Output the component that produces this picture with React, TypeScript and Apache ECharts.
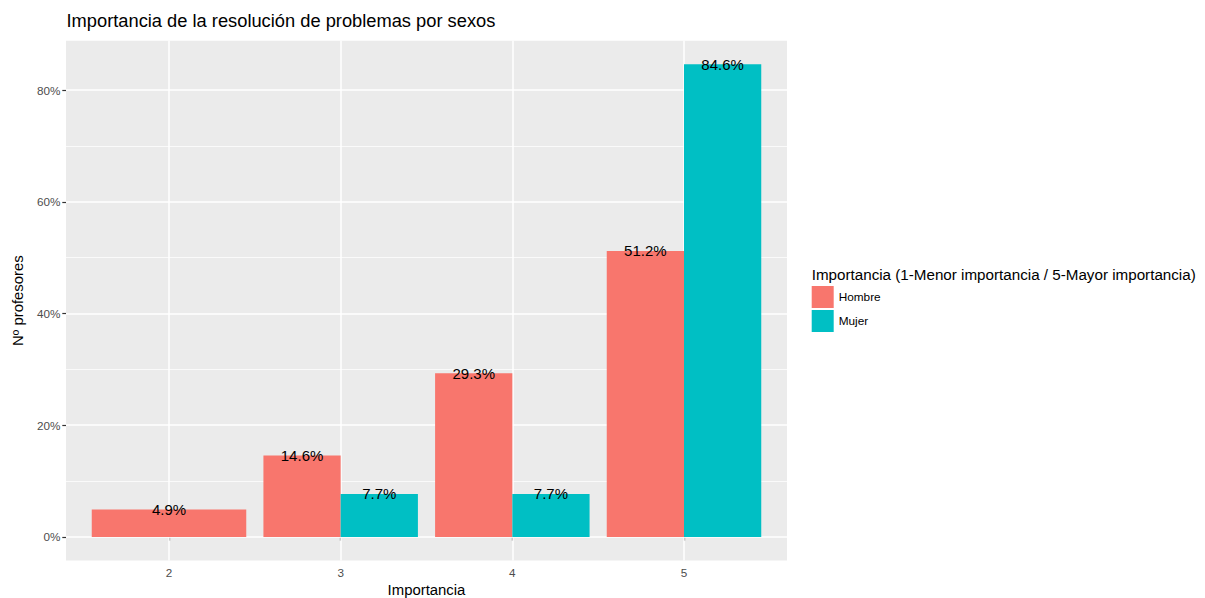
import React, { useEffect, useRef } from "react";
import * as echarts from "echarts";

const categories = [2, 3, 4, 5];
const hombre: (number | null)[] = [4.9, 14.6, 29.3, 51.2];
const mujer: (number | null)[] = [null, 7.7, 7.7, 84.6];
const seriesNames = ["Hombre", "Mujer"];
const seriesColors = ["#F8766D", "#00BFC4"];
const yTicks = [0, 20, 40, 60, 80];
const yMinor = [10, 30, 50, 70];

const FONT = "'Liberation Sans', Arial, Helvetica, sans-serif";

function buildData(groupIndex: number) {
  const groups = [hombre, mujer];
  const out: number[][] = [];
  categories.forEach((c, i) => {
    const present = groups.map((g) => g[i]).map((v, gi) => (v == null ? -1 : gi)).filter((gi) => gi >= 0);
    const v = groups[groupIndex][i];
    if (v == null) return;
    out.push([c, v, present.indexOf(groupIndex), present.length]);
  });
  return out;
}

export default function App() {
  const ref = useRef<HTMLDivElement>(null);
  useEffect(() => {
    document.body.style.margin = "0";
    if (!ref.current) return;
    const chart = echarts.init(ref.current, undefined, { renderer: "svg" });
    const all = [...hombre, ...mujer].filter((v) => v != null) as number[];
    const dataMax = Math.max(...all);
    const yMin = -0.05 * dataMax;
    const yMax = dataMax * 1.05;
    const xMin = categories[0] - 0.6;
    const xMax = categories[categories.length - 1] + 0.6;

    const renderItem = (params: any, api: any) => {
      const x = api.value(0);
      const v = api.value(1);
      const slot = api.value(2);
      const n = api.value(3);
      const unit = api.size([1, 0])[0];
      const total = 0.9 * unit;
      const w = total / n;
      const cx = api.coord([x, 0])[0];
      const left = cx - total / 2 + slot * w;
      const top = api.coord([x, v])[1];
      const base = api.coord([x, 0])[1];
      return {
        type: "group",
        children: [
          {
            type: "rect",
            shape: { x: left, y: top, width: w, height: base - top },
            style: { fill: api.visual("color") },
          },
          {
            type: "text",
            x: left + w / 2,
            y: top,
            z2: 10,
            style: {
              text: v.toFixed(1) + "%",
              align: "center",
              verticalAlign: "middle",
              fontSize: 15,
              fontFamily: FONT,
              fill: "#000000",
            },
          },
        ],
      };
    };

    const gridLines = [
      ...yTicks.map((v) => ({ yAxis: v, lineStyle: { width: 1.5, color: "#FFFFFF", type: "solid" } })),
      ...yMinor.map((v) => ({ yAxis: v, lineStyle: { width: 0.75, color: "#FFFFFF", type: "solid" } })),
      ...categories.map((c) => ({ xAxis: c, lineStyle: { width: 1.5, color: "#FFFFFF", type: "solid" } })),
    ];

    const option: any = {
      animation: false,
      textStyle: { fontFamily: FONT },
      grid: {
        left: 66,
        right: 1205 - 787,
        top: 40.7,
        bottom: 598 - 560.6,
        show: true,
        backgroundColor: "#EBEBEB",
        borderWidth: 0,
      },
      xAxis: {
        type: "value",
        min: xMin,
        max: xMax,
        axisLine: { show: false },
        splitLine: { show: false },
        axisTick: { show: true, length: 3.7, customValues: categories, lineStyle: { color: "#333333", width: 1.2 } },
        axisLabel: {
          customValues: categories,
          margin: 5.5,
          fontSize: 11.7,
          color: "#4D4D4D",
          fontFamily: FONT,
          formatter: (v: number) => String(v),
        },
      },
      yAxis: {
        type: "value",
        min: yMin,
        max: yMax,
        axisLine: { show: false },
        splitLine: { show: false },
        axisTick: { show: true, length: 3.7, customValues: yTicks, lineStyle: { color: "#333333", width: 1.2 } },
        axisLabel: {
          customValues: yTicks,
          margin: 5.5,
          fontSize: 11.7,
          color: "#4D4D4D",
          fontFamily: FONT,
          formatter: (v: number) => v + "%",
        },
      },
      legend: {
        data: seriesNames,
        orient: "vertical",
        left: 811.7,
        top: 286,
        icon: "rect",
        itemWidth: 22,
        itemHeight: 22,
        itemGap: 2,
        padding: 0,
        selectedMode: false,
        textStyle: { fontSize: 11.8, color: "#000000", fontFamily: FONT },
      },
      graphic: [
        {
          type: "text",
          left: 66.5,
          top: 11.5,
          style: {
            text: "Importancia de la resolución de problemas por sexos",
            fontSize: 18.3,
            fontFamily: FONT,
            fill: "#000000",
          },
        },
        {
          type: "text",
          x: 426.5,
          y: 590,
          style: {
            text: "Importancia",
            fontSize: 14.9,
            fontFamily: FONT,
            fill: "#000000",
            align: "center",
            verticalAlign: "middle",
          },
        },
        {
          type: "text",
          x: 18,
          y: 300.6,
          rotation: Math.PI / 2,
          style: {
            text: "Nº profesores",
            fontSize: 14.9,
            fontFamily: FONT,
            fill: "#000000",
            align: "center",
            verticalAlign: "middle",
          },
        },
        {
          type: "text",
          x: 811.7,
          y: 274,
          style: {
            text: "Importancia (1-Menor importancia / 5-Mayor importancia)",
            fontSize: 15.2,
            fontFamily: FONT,
            fill: "#000000",
            align: "left",
            verticalAlign: "middle",
          },
        },
      ],
      series: [
        {
          name: seriesNames[0],
          type: "custom",
          renderItem,
          itemStyle: { color: seriesColors[0] },
          encode: { x: 0, y: 1 },
          data: buildData(0),
          z: 2,
          markLine: {
            silent: true,
            z: 1,
            symbol: ["none", "none"],
            label: { show: false },
            emphasis: { disabled: true },
            data: gridLines,
          },
        },
        {
          name: seriesNames[1],
          type: "custom",
          renderItem,
          itemStyle: { color: seriesColors[1] },
          encode: { x: 0, y: 1 },
          data: buildData(1),
          z: 2,
        },
      ],
    };
    chart.setOption(option);
    return () => chart.dispose();
  }, []);
  return <div ref={ref} style={{ width: 1205, height: 598 }} />;
}
